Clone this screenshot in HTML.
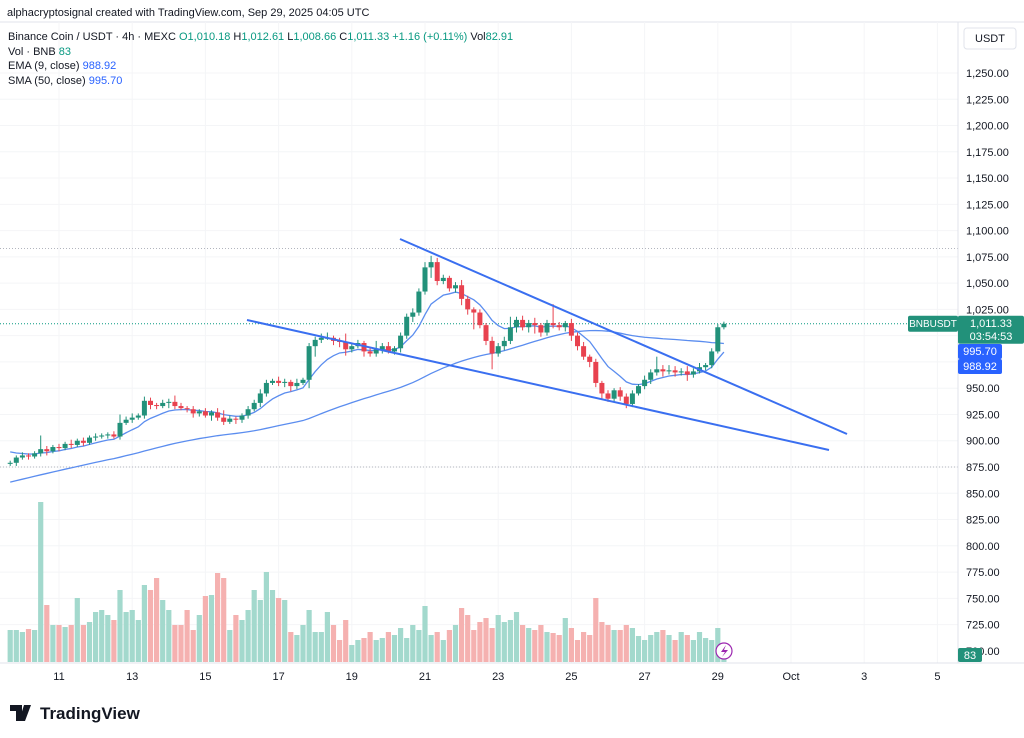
<!DOCTYPE html>
<html><head><meta charset="utf-8"><style>
body{margin:0;background:#fff;font-family:"Liberation Sans",sans-serif}
svg{display:block}
text{font-family:"Liberation Sans",sans-serif}
</style></head><body>
<svg id="c" width="1024" height="738" viewBox="0 0 1024 738">
<rect x="0" y="0" width="1024" height="738" fill="#fff"/>
<text x="7" y="16" font-size="11" fill="#131722">alphacryptosignal created with TradingView.com, Sep 29, 2025 04:05 UTC</text>
<line x1="0" y1="22" x2="1024" y2="22" stroke="#e0e3eb"/>
<g id="grid"></g>
<g id="vol"></g>
<g id="lines"></g>
<g id="candles"></g>
<line x1="400" y1="239" x2="847" y2="434" stroke="#3a6ff0" stroke-width="2"/>
<line x1="247" y1="320" x2="829" y2="450" stroke="#3a6ff0" stroke-width="2"/>
<g font-size="11">
<text x="8" y="40" fill="#131722">Binance Coin / USDT · 4h · MEXC <tspan fill="#089981">O</tspan><tspan fill="#089981">1,010.18</tspan> H<tspan fill="#089981">1,012.61</tspan> L<tspan fill="#089981">1,008.66</tspan> C<tspan fill="#089981">1,011.33 +1.16 (+0.11%)</tspan> Vol<tspan fill="#089981">82.91</tspan></text>
<text x="8" y="55" fill="#131722">Vol · BNB <tspan fill="#089981">83</tspan></text>
<text x="8" y="69" fill="#131722">EMA (9, close) <tspan fill="#2962ff">988.92</tspan></text>
<text x="8" y="84" fill="#131722">SMA (50, close) <tspan fill="#2962ff">995.70</tspan></text>
</g>
<line x1="958" y1="22" x2="958" y2="663" stroke="#e0e3eb"/>
<line x1="0" y1="663" x2="1024" y2="663" stroke="#e0e3eb"/>
<g id="yaxis" font-size="11" fill="#131722"></g>
<g id="xaxis" font-size="11" fill="#131722"></g>
<rect x="964" y="28" width="52" height="21" rx="3" fill="#fff" stroke="#e0e3eb"/>
<text x="990" y="42" font-size="11" text-anchor="middle" fill="#131722">USDT</text>
<g id="tags"></g>
<circle cx="724" cy="651" r="8" fill="#fff" stroke="#9c27b0" stroke-width="1.2"/>
<path d="M726 645 L721 652 L725 652 L722 657 L728 650 L724 650 Z" fill="#9c27b0"/>
<g>
<path d="M10 705 H22 V721 H16 V711 H10 Z M24 705 h7 l-6 16 h-6 z" fill="#131722"/>
<text x="40" y="719" font-size="17" font-weight="bold" fill="#131722">TradingView</text>
</g>
</svg>
<script>
const priorCloses=[812,814,817,815,820,822,824,827,825,830,832,834,837,836,840,842,844,847,850,848,852,854,857,860,858,862,864,867,870,868,872,874,877,880,878,882,884,887,885,888,890,892,891,894,892,895,893,896,894,892];
const closes=[879,884,886,885,888,892,890,894,893,897,896,900,898,903,904,905,906,904,917,920,922,924,938,934,933,936,937,933,931,930,926,928,924,927,922,918,921,920,924,930,936,945,955,957,955,956,952,955,958,990,996,998,998,995,994,987,990,993,985,983,987,990,985,988,1000,1018,1022,1042,1065,1070,1052,1055,1045,1048,1035,1025,1022,1010,995,983,990,995,1008,1015,1008,1012,1010,1003,1012,1010,1008,1012,1000,990,980,975,955,945,940,948,942,935,945,952,958,965,968,966,967,965,966,963,966,970,972,985,1008,1011.33];
const upWick=[2,2,3,2,2,13,3,2,3,2,4,2,3,2,3,2,2,3,8,3,4,2,4,3,2,3,3,6,3,2,3,2,3,2,4,7,3,2,2,3,3,4,3,2,4,3,2,4,2,3,3,4,5,2,3,8,3,3,2,4,8,3,4,2,3,3,4,3,5,6,4,3,2,3,5,3,2,3,2,4,3,4,10,3,4,3,5,2,3,18,3,2,4,3,4,2,3,2,3,2,3,3,3,2,4,3,12,4,5,4,3,5,3,4,2,3,3,2];
const lowWick=[2,3,2,3,2,3,4,2,3,2,3,2,3,2,3,2,3,2,3,2,3,2,3,4,3,2,5,3,2,3,4,3,2,5,3,3,2,4,3,3,2,4,3,2,3,4,5,3,2,8,10,3,2,4,5,6,3,2,5,3,3,4,2,3,4,3,5,3,3,10,4,3,3,4,6,5,16,3,4,15,3,4,3,5,3,5,8,4,3,3,3,4,5,4,3,5,4,6,3,3,4,4,3,2,3,4,3,5,3,4,3,6,3,2,3,3,2,2];
const volumes=[32,32,30,33,32,160,57,37,37,35,37,64,37,40,50,52,47,42,72,50,52,42,77,72,84,62,52,37,37,52,32,47,66,67,89,84,32,47,42,52,72,62,90,72,64,62,30,27,37,52,30,30,50,37,22,42,17,22,24,30,22,24,30,27,34,24,37,32,56,27,30,22,32,37,54,47,32,40,44,34,47,40,42,50,37,34,32,37,30,29,27,44,34,22,30,27,64,40,37,32,32,37,34,26,22,27,30,32,27,22,30,27,22,30,24,22,34,7];
const priceTicks=[1250,1225,1200,1175,1150,1125,1100,1075,1050,1025,1000,975,950,925,900,875,850,825,800,775,750,725,700];
const dayLabels=["11","13","15","17","19","21","23","25","27","29","Oct","3","5"];
const dayOffsets=[0,2,4,6,8,10,12,14,16,18,20,22,24];

const NS="http://www.w3.org/2000/svg";
const X=i=>10.2+i*6.1;
const Y=p=>467-(p-875)*1.0507;
const dayX=d=>59+d*36.6;
function mk(tag,attrs,parent){const e=document.createElementNS(NS,tag);for(const k in attrs)e.setAttribute(k,attrs[k]);document.getElementById(parent).appendChild(e);return e;}
const fmt=v=>v.toLocaleString('en-US',{minimumFractionDigits:2,maximumFractionDigits:2});

priceTicks.forEach(p=>{
  const y=Y(p);
  if(y<640){const g=mk('line',{x1:0,x2:958,y1:y,y2:y,stroke:'#f4f5f7'},'grid');
  
  }
  const t=mk('text',{x:966,y:y+4},'yaxis');t.textContent=fmt(p);
  
  
});
dayLabels.forEach((l,k)=>{
  const x=dayX(dayOffsets[k]);
  const g=mk('line',{x1:x,x2:x,y1:22,y2:663,stroke:'#f4f5f7'},'grid');
  
  
  const t=mk('text',{x:x,y:680,'text-anchor':'middle'},'xaxis');t.textContent=l;
  
  
});
[[Y(1083),'#b2b5be'],[Y(875),'#b2b5be'],[Y(closes[closes.length-1]),'#089981']].forEach(([y,c])=>{
  const l=mk('line',{x1:0,x2:958,y1:y,y2:y,stroke:c,'stroke-dasharray':'1 2'},'grid');
  
  
});

const opens=closes.map((c,i)=>i===0?878:closes[i-1]);
closes.forEach((c,i)=>{
  const up=c>=opens[i];
  const r=mk('rect',{x:X(i)-2.6,y:662-volumes[i],width:5.2,height:volumes[i],fill:up?'#a3d9cd':'#f5b1b0'},'vol');
  
  
});
const all=priorCloses.concat(closes);
let ema=null;const emaPts=[],smaPts=[];
all.forEach((c,k)=>{ema=ema===null?c:(c*0.2+ema*0.8);
  const i=k-priorCloses.length;
  if(i>=0){emaPts.push(X(i)+','+Y(ema));
    const w=all.slice(k-49,k+1);smaPts.push(X(i)+','+Y(w.reduce((a,b)=>a+b,0)/w.length));}
});
const e1=mk('polyline',{points:emaPts.join(' '),fill:'none',stroke:'#5b8def','stroke-width':1.3},'lines');


const s1=mk('polyline',{points:smaPts.join(' '),fill:'none',stroke:'#5b8def','stroke-width':1.3},'lines');


closes.forEach((c,i)=>{
  const o=opens[i],up=c>=o,col=up?'#22917a':'#e8424f';
  const hi=Math.max(o,c)+upWick[i],lo=Math.min(o,c)-lowWick[i];
  const w=mk('line',{x1:X(i),x2:X(i),y1:Y(hi),y2:Y(lo),stroke:col,'stroke-width':1},'candles');
  
  
  const top=Y(Math.max(o,c)),h=Math.max(1,Y(Math.min(o,c))-top);
  const b=mk('rect',{x:X(i)-2.5,y:top,width:5,height:h,fill:col},'candles');
  
  
});
const last=closes[closes.length-1];
function tag(x,y,w,h,fill,txt,name,sub,fs){
  const r=mk('rect',{x:x,y:y,width:w,height:h,fill:fill,rx:2},'tags');
  
  
  const t=mk('text',{x:x+w/2,y:y+11,'font-size':fs||11,fill:'#fff','text-anchor':'middle'},'tags');t.textContent=txt;
  if(sub){const s=mk('text',{x:x+w/2,y:y+24,'font-size':11,fill:'#fff','text-anchor':'middle'},'tags');s.textContent=sub;}
}
tag(908,Y(last)-8,50,16,'#22917a','BNBUSDT','symbol-tag',null,10);
tag(958,Y(last)-8,66,28,'#22917a',fmt(last),'last-price-tag','03:54:53');
tag(958,344,44,15,'#2962ff','995.70','sma-tag');
tag(958,359,44,15,'#2962ff','988.92','ema-tag');
tag(958,648,24,14,'#22917a','83','volume-tag');
</script>
</body></html>
